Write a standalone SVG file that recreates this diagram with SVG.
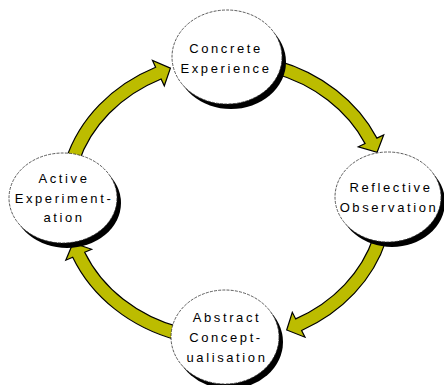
<svg xmlns="http://www.w3.org/2000/svg" width="444" height="385" viewBox="0 0 444 385">
<style>
.arrow{fill:#bcbc00;stroke:#000;stroke-width:1.2;stroke-linejoin:miter}
.shadow{fill:#000}
.face{fill:#fff;stroke:#333;stroke-width:0.8;stroke-dasharray:3 1.2}
.label{font-family:"Liberation Sans",Arial,sans-serif;font-size:13px;letter-spacing:2.6px;fill:#000;text-anchor:middle}
</style>
<rect width="444" height="385" fill="#fff"/>
<g id="connectors">
<path class="arrow" d="M277.4,60.7 A166.5,146.5 0 0 1 376.9,138.1 L383.7,134.9 L377.1,152.3 L358.3,146.8 L365.1,143.6 A153.5,133.5 0 0 0 273.4,73 Z"/>
<path class="arrow" d="M386.1,240.4 A166.5,146.5 0 0 1 301.6,330.5 L305,337.2 L286.7,330 L292.3,312.3 L295.7,318.9 A153.5,133.5 0 0 0 373.6,236.8 Z"/>
<path class="arrow" d="M177.3,340.1 A166.5,146.5 0 0 1 72.7,257.2 L65.8,260.2 L73,243 L91.6,249.2 L84.7,252.2 A153.5,133.5 0 0 0 181.1,327.7 Z"/>
<path class="arrow" d="M65.9,159.6 A166.5,146.5 0 0 1 155.6,67.2 L152.5,60.4 L170.4,68.2 L164.3,85.8 L161.1,79 A153.5,133.5 0 0 0 78.4,163.2 Z"/>
</g>
<g id="concrete-experience">
<ellipse class="shadow" cx="231" cy="62" rx="55" ry="47"/>
<ellipse class="face" cx="227" cy="57" rx="55" ry="47"/>
<text class="label" x="226" y="53">Concrete</text>
<text class="label" x="226" y="73">Experience</text>
</g>
<g id="reflective-observation">
<ellipse class="shadow" cx="392" cy="202" rx="53" ry="45"/>
<ellipse class="face" cx="388" cy="197" rx="53" ry="45"/>
<text class="label" x="391" y="192">Reflective</text>
<text class="label" x="389" y="212">Observation</text>
</g>
<g id="active-experimentation">
<ellipse class="shadow" cx="67" cy="203" rx="54" ry="45"/>
<ellipse class="face" cx="63" cy="198" rx="54" ry="45"/>
<text class="label" x="64" y="183">Active</text>
<text class="label" x="64" y="203">Experiment-</text>
<text class="label" x="64" y="222">ation</text>
</g>
<g id="abstract-conceptualisation">
<ellipse class="shadow" cx="229" cy="342" rx="54" ry="47"/>
<ellipse class="face" cx="225" cy="337" rx="54" ry="47"/>
<text class="label" x="227" y="322">Abstract</text>
<text class="label" x="226" y="342">Concept-</text>
<text class="label" x="227" y="362">ualisation</text>
</g>
</svg>
